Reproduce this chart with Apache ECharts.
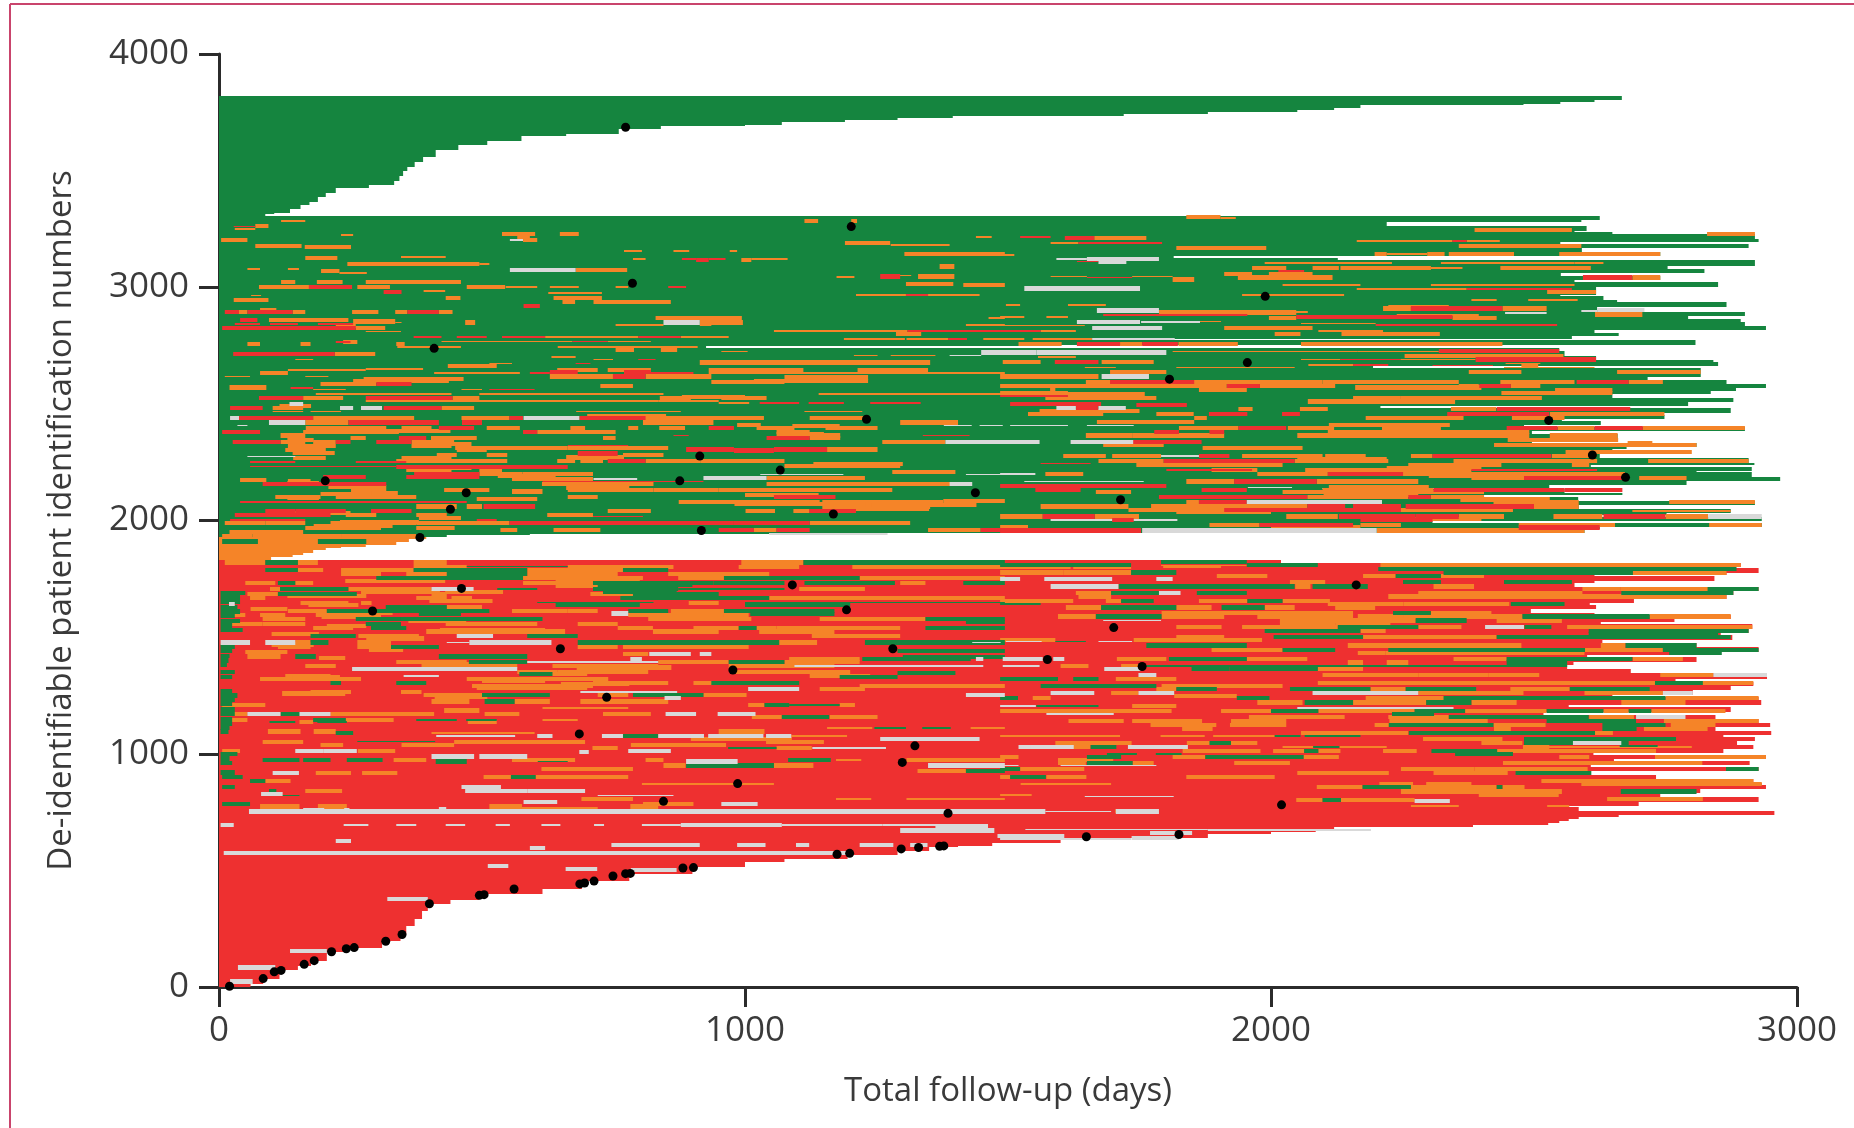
<!DOCTYPE html>
<html><head><meta charset="utf-8">
<style>html,body{margin:0;padding:0;background:#fff}#c{width:1854px;height:1128px}</style>
<script src="https://cdn.jsdelivr.net/npm/echarts@6/dist/echarts.min.js"></script>
</head><body><div id="c"></div>
<script>
const xTicks=[0,1000,2000,3000];
const yTicks=[0,1000,2000,3000,4000];
const xTitle='Total follow-up (days)';
const yTitle='De-identifiable patient identification numbers';
// patient-id blocks: [idLow, idHigh, lastDay]
const greenBlocks=[[3304,3312,88],[3312,3320,105],[3320,3337,135],[3337,3352,155],[3352,3367,172],[3367,3385,188],[3385,3405,203],[3405,3425,222],[3425,3440,285],[3440,3455,333],[3455,3475,343],[3475,3497,350],[3497,3515,358],[3515,3535,372],[3535,3560,388],[3560,3589,412],[3589,3612,455],[3612,3625,510],[3625,3647,575],[3647,3657,660],[3657,3678,760],[3678,3690,840],[3690,3696,1000],[3696,3708,1070],[3708,3716,1190],[3716,3727,1290],[3727,3735,1395],[3735,3742,1720],[3742,3750,1880],[3750,3760,2050],[3760,3769,2120],[3769,3780,2170],[3780,3787,2480],[3787,3795,2550],[3795,3804,2615],[3804,3819,2667],
[3289,3306,2625],[3278,3289,2590],[3261,3278,2220],[3243,3261,2600],[3235,3243,2577],[3228,3235,2649],[3209,3228,2920],[3193,3209,2927],[3185,3193,2550],[3168,3185,2908],[3152,3168,2591],[3133,3152,2740],[3125,3133,1815],[3115,3125,2127],[3089,3115,2920],[3080,3089,2754],[3063,3080,2824],[3049,3063,2551],[3029,3049,2740],[3022,3029,2577],[3003,3022,2850],[2982,3003,2618],[2967,2982,2618],[2963,2967,2550],[2945,2963,2632],[2936,2945,2658],[2915,2936,2866],[2903,2915,2620],[2892,2903,2706],[2875,2892,2901],[2866,2875,2793],[2849,2866,2893],[2832,2849,2901],[2815,2832,2941],[2806,2815,2615],[2789,2806,2661],[2780,2789,2572],[2775,2780,1815],[2753,2775,2807],[2746,2753,1523],[2741,2746,926],[2725,2741,2548],[2706,2725,2558],[2689,2706,2618],[2678,2689,2841],[2664,2678,2850],[2654,2664,2194],[2624,2654,2817],
[2615,2624,2817],[2604,2615,2716],[2584,2604,2866],[2567,2584,2941],[2557,2567,2884],[2544,2557,2836],[2527,2544,2649],[2507,2527,2879],[2492,2507,2793],[2482,2492,2208],[2462,2482,2874],[2452,2462,2663],[2437,2452,2748],[2428,2437,2553],[2411,2428,2627],[2402,2411,2481],[2385,2402,2901],[2370,2385,2496],[2351,2370,2659],[2341,2351,2529],[2334,2341,2496],[2317,2334,2809],[2307,2317,2676],[2292,2307,2649],[2270,2292,2625],[2247,2270,2908],[2238,2247,2919],[2231,2238,2608],[2214,2231,2914],[2207,2214,2809],[2188,2207,2914],[2170,2188,2968],[2152,2170,2790],[2141,2152,2529],[2135,2141,2098],[2117,2135,2558],[2110,2117,2668],[2101,2110,2405],[2084,2101,2584],[2067,2084,2920],[2050,2067,2585],[2032,2050,2874],[2024,2032,2752],[2015,2024,2620],[1998,2015,2933],[1990,1998,2307],[1972,1990,2933],[1964,1972,2625],[1947,1964,2596],[1944,1947,1046],[1938,1944,591],[1929,1938,433]];
const orangeBlocks=[[1831,1845,99],[1845,1852,140],[1852,1862,160],[1862,1874,179],[1874,1881,203],[1881,1888,232],[1888,1895,279],[1895,1909,337],[1909,1921,361],[1921,1929,394]];
const redBlocks=[[1817,1831,2019],[1802,1817,2893],[1795,1802,2860],[1777,1795,2927],[1767,1777,2866],[1760,1767,2615],[1742,1760,2843],[1731,1742,2615],[1717,1731,2577],[1697,1717,2927],[1681,1697,2879],[1662,1681,2866],[1645,1662,2690],[1637,1645,2606],[1620,1637,2618],[1605,1620,2494],[1595,1605,2615],[1577,1595,2874],[1565,1577,2767],[1557,1565,2627],[1535,1557,2915],[1517,1535,2908],[1507,1517,2855],[1488,1507,2877],[1474,1488,2630],[1457,1474,2809],[1438,1457,2927],[1424,1438,2855],[1414,1424,2601],[1395,1414,2809],[1381,1395,2575],[1362,1381,2563],[1345,1362,2684],[1331,1345,2850],[1319,1331,2943],[1309,1319,2769],[1291,1309,2917],[1274,1291,2874],[1252,1274,2802],[1242,1252,2649],[1231,1242,2927],
[1210,1231,2932],[1200,1210,2566],[1177,1200,2874],[1165,1177,2518],[1148,1165,2845],[1131,1148,2927],[1114,1131,2949],[1098,1114,2845],[1081,1098,2951],[1071,1081,2860],[1055,1071,2920],[1038,1055,2886],[1019,1038,2917],[1002,1019,2860],[995,1002,2613],[977,995,2941],[967,977,2652],[952,967,2910],[942,952,2608],[924,942,2927],[910,924,2608],[891,910,2732],[874,891,2917],[865,874,2933],[848,865,2941],[831,848,2816],[814,831,2740],[795,814,2927],[778,795,2699],[771,778,2566],[754,771,2585],[736,754,2957],[728,736,2661],[720,728,2585],[710,720,2566],[702,710,2548],[694,702,2527],[685,694,2384],[671,685,2120],[663,671,2085],[655,663,2000],[639,655,1880],[631,639,1730],[618,631,1600],[606,618,1470],[600,606,1405],[582,600,1350],[566,582,1290],[547,566,1195],[537,547,1075],[513,537,1000],[486,513,900],[454,486,780],[421,454,690],[397,421,615],[373,397,495],[357,373,440],[325,357,397],[293,325,386],[260,293,372],[229,260,356],[196,229,345],[167,196,310],[148,167,245],[113,148,205],[92,113,175],[71,92,150],[36,71,115],[11,36,84],[0,11,60]];
// treatment stretches: [patientId, fromDay, toDay]
const orangeWide=[[3263,69,94],[3285,1113,1139],[3285,1202,1213],[3229,538,601],[3229,648,684],[3218,567,591],[3203,578,605],[3203,4,54],[3178,69,157],[3174,163,251],[3189,1190,1276],[3143,1303,1494],[3125,164,225],[3116,993,1012],[3099,244,495],[3089,1370,1398],[3069,194,229],[3073,678,776],[3046,1329,1398],[3022,118,145],[3022,186,235],[3022,279,460],[3013,1306,1396],[3010,1415,1494],[3000,76,171],[3000,263,325],[3002,471,544],[2953,431,459],[2953,636,728],[2946,28,94],[2936,712,859],[2936,653,677],[2893,38,54],[2893,140,164],[2893,253,303],[2893,335,358],[2893,418,444],[2868,830,994],[2849,914,996],[2859,95,246],[2853,255,335],[2849,468,487],[2836,222,260],[2825,260,316],[2799,1287,1335],[2765,236,263],[2756,54,78],[2756,155,174],[2756,337,353],[2732,754,789],[2732,840,871],[2713,220,297],[2677,914,1352],[2663,435,528],[2645,643,720],[2645,739,821],[2645,931,1111],[2645,1214,1348],[2632,78,131],
[3301,1839,1904],[3246,2387,2572],[3211,1664,1763],[3229,2829,2920],[3168,1820,1991],[3178,2357,2590],[3143,2197,2220],[3143,2297,2330],[3143,2338,2462],[3143,2548,2740],[3082,1964,2029],[3082,2079,2129],[3082,2132,2304],[3082,2436,2608],[3056,1911,1964],[3056,1996,2079],[3042,2687,2740],[3033,1813,1854],[3042,1937,2117],[2978,2525,2618],[2909,2213,2266],[2909,2440,2524],[2892,1787,2048],[2883,2616,2706],[2869,1996,2048],[2869,2345,2429],[2825,1911,2079],[2799,2007,2056],[2799,2134,2321],[2756,1520,1602],[2756,1713,1755],[2756,1824,1937],[2756,2057,2440],[2706,2254,2556],[2679,1490,1562],[2679,1678,1777],[2668,2476,2508],[2636,1694,1801],[2636,2376,2476],[2636,2658,2817],
[2617,629,749],[2617,811,936],[2613,1075,1234],[2598,255,437],[2598,1017,1234],[2595,936,1075],[2585,193,299],[2577,725,787],[2524,160,236],[2524,444,495],[2524,838,897],[2524,955,1041],[2481,102,160],[2481,423,485],[2438,179,371],[2438,461,552],[2438,804,1036],[2438,1123,1228],[2420,164,246],[2420,806,940],[2420,1295,1405],[2398,165,318],[2398,347,404],[2398,509,572],[2398,668,696],[2398,778,797],[2398,837,886],[2398,1022,1094],[2398,1153,1252],[2378,160,342],[2378,605,754],[2378,1060,1123],[2364,117,164],[2364,1123,1181],[2352,250,279],[2352,403,490],[2352,730,754],[2352,1123,1181],[2335,117,164],[2335,179,222],[2335,366,447],[2335,1261,1381],[2321,131,222],[2321,366,442],[2312,449,663],[2312,663,854],[2302,126,203],[2302,452,509],[2304,1156,1252],[2281,768,845],[2281,414,452],[2281,509,548],[2267,141,203],[2267,347,442],[2255,337,548],[2255,643,677],[2255,687,730],[2255,811,916],[2255,916,1075],[2235,1075,1295],[2217,356,442],[2217,495,538],[2198,495,577],[2198,577,711],[2181,1041,1228],[2177,557,711],[2167,131,174],[2155,178,208],[2155,614,826],[2155,1041,1391],[2145,208,318],[2131,428,514],[2131,663,826],[2131,826,950],[2131,950,1280],[2124,251,318],[2124,557,615],[2112,193,327],[2102,107,193],[2102,222,375],[2102,663,720],[2092,490,557],[2092,557,605],[2078,874,1142],[2078,1147,1377],[2085,1377,1494],[2060,375,452],[2060,471,500],[2060,1147,1352],[2041,739,821],[2041,1001,1057],[2041,1092,1123],[2024,241,299],[2024,375,433],[2024,624,711],[1988,11,88],[1988,88,164],[1988,212,375],[1988,375,552],[1988,1123,1314],[1967,164,308],[1967,375,448],[1958,535,567],[1958,636,725],[1958,1017,1060],[1958,1348,1448],[1931,6,64],[1931,64,232],[1931,232,375],
[2605,275,465],[2570,20,90],[2530,880,1000],[2490,115,175],[2448,700,850],[2410,985,1030],[2405,1090,1180],[2385,300,440],[2370,1060,1150],[2345,130,180],[2328,400,480],[2290,140,220],[2270,660,770],[2242,1130,1300],[2225,360,480],[2208,1280,1400],[2190,530,640],[2172,40,90],[2160,130,190],[2140,660,780],[2118,290,340],[2110,1000,1140],[2095,130,190],[2070,980,1230],[2068,1240,1440],[2050,1160,1350],[2033,110,250],[2010,380,460],[1995,230,380],[1975,180,330],[1950,20,160],
[2617,1485,1672],[2594,1648,2098],[2594,2098,2357],[2594,2436,2577],[2594,2680,2745],[2577,1485,1916],[2577,1979,2122],[2577,2357,2395],[2577,2456,2512],[2560,1580,1590],[2560,1863,1954],[2560,2540,2649],[2545,1485,1614],[2545,2438,2649],[2524,2156,2247],[2524,2247,2515],[2524,1571,1782],[2477,2342,2428],[2477,1938,1965],[2477,2055,2108],[2455,1538,1681],[2455,1782,1853],[2455,2530,2748],[2438,1854,1878],[2438,2180,2366],[2438,2458,2558],[2424,1669,1854],[2395,1825,1938],[2395,2032,2120],[2395,2211,2323],[2395,2545,2615],[2395,2707,2901],[2378,2108,2491],[2364,1648,1736],[2364,1736,1911],[2364,2050,2491],[2364,2530,2659],[2324,1681,1796],[2324,2424,2809],[2330,2678,2725],[2277,1605,1686],[2277,1698,1791],[2277,1945,2098],[2277,2103,2180],[2277,2266,2307],[2277,2534,2611],[2255,1672,1796],[2255,2045,2223],[2255,2347,2620],[2255,2717,2908],[2238,1744,2022],[2238,2261,2438],[2238,2572,2605],[2217,1887,1974],[2217,2065,2381],[2200,1974,2108],[2200,2251,2673],[2200,1571,1643],[2181,2381,2481],[2181,2700,2790],[2167,1839,1930],[2167,2087,2280],[2131,2098,2309],[2121,1667,1734],[2121,2022,2405],[2102,2069,2261],[2102,2304,2405],[2078,1839,1863],[2078,2423,2585],[2078,2757,2920],[2060,1562,1729],[2060,1772,2069],[2060,2500,2585],[2045,1729,2460],[2017,1485,1566],[2017,1665,1749],[2017,2029,2127],[2017,2357,2443],[2017,2537,2630],[2017,2750,2831],[1981,1883,1978],[1981,2170,2247],[1981,2471,2654],[1981,2833,2933],[1957,2201,2596],[1970,1485,1538],
[2570,2160,2400],[2540,1570,1760],[2510,2070,2350],[2470,1560,1750],[2410,2110,2340],[2345,2450,2660],[2310,1870,2060],[2295,2560,2800],[2265,2050,2220],[2225,2220,2400],[2190,2300,2500],[2145,2110,2300],[2110,2100,2280],[2090,2360,2530],[2035,1820,2000],[2005,2190,2400],[1970,2000,2170],
[1820,11,88],[1820,150,188],[1820,370,433],[1820,993,1111],[1802,370,471],[1802,663,864],[1802,988,1103],[1802,1204,1494],[1788,150,198],[1788,232,370],[1788,586,768],[1770,232,308],[1770,356,471],[1770,586,758],[1770,854,1046],[1752,578,806],[1752,873,960],[1752,1218,1494],[1731,50,107],[1731,145,179],[1731,578,711],[1731,1295,1343],[1707,97,121],[1707,246,404],[1707,1103,1228],[1684,54,112],[1684,404,433],[1684,706,787],[1667,59,88],[1667,375,433],[1667,442,481],[1667,1046,1494],[1648,155,246],[1648,270,290],[1648,893,950],[1628,433,500],[1612,131,205],[1612,557,663],[1612,663,720],[1612,859,960],[1595,6,50],[1595,78,126],[1595,184,308],[1595,778,960],[1595,960,1007],[1577,83,164],[1577,816,1012],[1577,1142,1343],[1557,16,83],[1557,83,164],[1557,431,605],[1557,682,758],[1538,179,255],[1538,758,825],[1538,902,988],[1538,1022,1060],[1538,1060,1295],[1524,394,658],[1524,825,950],[1524,1027,1170],[1505,265,380],[1505,1127,1295],[1477,145,174],[1477,263,327],[1477,1065,1137],[1457,112,174],[1457,263,327],[1457,682,758],[1457,768,1007],[1428,768,816],[1417,54,117],[1405,1084,1218],[1394,337,471],[1394,835,969],[1394,1075,1218],[1377,164,222],[1377,385,567],[1377,634,835],[1377,969,1170],[1352,567,643],[1352,643,816],[1352,979,1200],[1334,126,212],[1334,1123,1238],[1319,78,270],[1319,471,740],[1305,711,854],[1305,902,1036],[1291,481,711],[1291,1218,1494],[1278,1142,1228],[1266,174,251],[1266,346,385],[1252,389,500],[1252,720,778],[1252,921,1003],
[1742,240,430],[1742,640,800],[1720,640,740],[1695,270,420],[1695,430,540],[1675,130,280],[1655,400,520],[1638,170,265],[1620,60,130],[1603,205,330],[1586,195,270],[1568,360,470],[1548,205,280],[1530,420,620],[1515,100,190],[1494,280,390],[1468,100,180],[1447,285,350],[1436,50,130],[1410,190,240],[1385,400,560],[1370,680,860],[1342,630,700],[1327,140,230],[1312,500,620],[1298,650,780],[1284,490,700],[1258,120,240],[1244,410,510],
[1810,2208,2893],[1800,1485,1619],[1800,1624,1734],[1777,1485,1605],[1777,1605,1734],[1777,2688,2866],[1762,1897,1993],[1762,2175,2237],[1762,2323,2405],[1735,2036,2103],[1717,2046,2075],[1717,2309,2386],[1707,2592,2665],[1707,2665,2832],[1688,1629,1696],[1688,2280,2592],[1674,1634,1696],[1674,2223,2866],[1655,1485,1624],[1655,1686,1715],[1655,1863,1955],[1655,2022,2112],[1642,2108,2252],[1642,2252,2453],[1627,1610,1677],[1627,1820,1887],[1627,1988,2045],[1627,2122,2198],[1605,1792,2156],[1605,2304,2419],[1588,1595,1667],[1588,1792,1911],[1588,1974,2156],[1588,2165,2251],[1588,2251,2478],[1588,2720,2874],[1571,2017,2275],[1571,2429,2553],[1557,2017,2122],[1557,2122,2227],[1545,1820,1906],[1545,1945,2127],[1545,2280,2362],[1545,2563,2915],[1527,2170,2218],[1502,1820,1911],[1502,2175,2429],[1488,1485,1590],[1488,1739,1983],[1464,2146,2476],[1464,2627,2674],[1445,1887,2022],[1445,2597,2745],[1431,2165,2218],[1431,2218,2596],[1407,1707,1801],[1407,1954,2069],[1407,2347,2448],[1407,2688,2783],[1391,2146,2175],[1391,2220,2261],[1377,1600,1653],[1377,1715,1753],[1362,2089,2175],[1338,2098,2280],[1338,2280,2414],[1338,2414,2510],[1338,2740,2841],[1319,1705,1820],[1304,2089,2917],[1291,1792,2022],[1276,1782,1820],[1276,2189,2256],[1276,2455,2568],[1259,1696,1748],[1259,2280,2480],[1259,2596,2745],[1248,1816,1935],[1239,1547,1581],[1239,2180,2329],[1239,2750,2927],
[1224,404,476],[1224,562,629],[1224,687,854],[1208,6,88],[1208,1006,1037],[1208,1180,1209],[1185,428,495],[1170,505,571],[1170,21,54],[1170,212,409],[1170,730,821],[1157,1013,1070],[1157,1161,1252],[1145,21,54],[1145,241,332],[1135,473,528],[1135,153,179],[1095,93,155],[1095,180,222],[1095,950,1037],[1062,897,1089],[1052,83,160],[1052,447,696],[1052,1040,1150],[1038,193,236],[1038,347,447],[1038,783,964],[1024,710,758],[1024,1060,1127],[1012,6,40],[1012,264,335],[974,332,394],[974,557,677],[974,811,845],[974,1307,1494],[950,845,887],[950,1055,1130],[934,613,787],[927,1328,1420],[917,184,251],[917,272,339],[899,503,555],[899,602,778],[884,88,136],[841,164,234],[807,689,787],[784,806,902],[774,78,153],[774,188,243],[774,514,576],[774,782,835],
[1220,1974,2060],[1220,2156,2295],[1220,2381,2467],[1220,2666,2788],[1205,1736,1820],[1184,1485,1811],[1184,1905,2000],[1184,2090,2273],[1184,2369,2524],[1184,2632,2680],[1184,2723,2864],[1157,1958,2140],[1157,2223,2338],[1157,2605,2690],[1141,1615,1720],[1141,1736,1869],[1141,1924,2029],[1141,2225,2412],[1141,2747,2927],[1124,1771,1896],[1124,1922,2029],[1124,2197,2224],[1124,2423,2522],[1124,2760,2845],[1107,1831,1889],[1107,2424,2456],[1107,2709,2830],[1088,2057,2261],[1088,2616,2650],[1062,2289,2440],[1045,1590,1735],[1045,1840,1974],[1045,2400,2478],[1028,1588,1657],[1028,2479,2529],[1012,1832,1980],[1012,2004,2063],[1012,2090,2132],[1012,2213,2277],[1012,2429,2601],[1012,2594,2732],[985,1485,1520],[985,1813,1875],[985,2062,2129],[985,2548,2605],[985,2730,2941],[974,1595,1700],[961,1595,1648],[961,1737,1777],[961,1930,2036],[961,2441,2820],[934,1523,1645],[934,2247,2387],[934,2387,2602],[917,2050,2224],[917,2309,2450],[899,1485,1505],[899,1573,1649],[899,1839,2007],[884,2514,2917],[871,2206,2270],[871,2295,2381],[871,2590,2933],[857,2087,2174],[857,2266,2429],[857,2440,2482],[838,2247,2553],[824,2395,2547],[807,2639,2821],[800,2048,2098],[800,2133,2273],[755,1704,1759]];
const orangeThin=[[3251,30,69],[3285,118,164],[3223,232,255],[3215,1439,1469],[3181,1277,1389],[3155,770,804],[3155,864,894],[3155,971,985],[3129,346,431],[3120,787,811],[3120,1012,1081],[3099,495,514],[3078,54,78],[3078,131,152],[3060,229,281],[3050,1266,1316],[3043,1174,1208],[3002,545,605],[3002,629,684],[3002,754,778],[2983,389,430],[2975,626,728],[2966,1211,1306],[2966,1348,1446],[2965,61,80],[2908,78,109],[2849,335,347],[2838,754,845],[2838,914,936],[2838,1420,1494],[2868,1463,1494],[2810,279,346],[2812,1055,1309],[2786,620,797],[2786,878,969],[2778,1188,1304],[2778,1307,1386],[2778,1453,1494],[2768,423,672],[2768,739,821],[2743,339,460],[2743,644,910],[2725,955,1005],[2708,1207,1252],[2708,1277,1362],[2700,632,678],[2690,145,179],[2690,712,749],[2673,514,557],[2650,279,388],[2645,131,279],[2632,409,572],[2632,931,1494],
[3297,1904,1933],[3191,1581,1634],[3198,2163,2345],[3198,2372,2435],[3139,1485,1512],[3143,2220,2297],[3103,1988,2230],[3103,2323,2577],[3103,2577,2632],[3082,2304,2364],[3046,1581,1650],[3046,1736,1813],[3009,2304,2577],[3009,2022,2170],[2992,2163,2372],[2966,1945,2139],[2946,2381,2429],[2946,2489,2583],[2923,1496,1523],[2923,1614,1686],[2919,2223,2338],[2893,1955,2070],[2872,1485,1531],[2872,1573,1614],[2880,2239,2395],[2853,1813,1905],[2845,2057,2199],[2838,2266,2496],[2836,1485,1646],[2812,1562,1629],[2812,2090,2213],[2778,1485,1531],[2778,1547,1660],[2725,1813,2165],[2725,2165,2319],[2700,1557,1629],[2690,2057,2132],[2690,2246,2389],[2668,2071,2156],[2656,1646,1705],[2656,1820,2045],[2656,2443,2615],[2673,2446,2512],
[2618,11,59],[2618,164,208],[2561,179,241],[2561,461,500],[2543,184,442],[2543,495,845],[2543,1140,1494],[2511,279,835],[2511,835,950],[2503,950,1008],[2467,102,160],[2467,174,232],[2467,679,878],[2467,1113,1223],[2042,2687,2874],
[1807,1791,1954],[1800,1795,1905],[1195,615,778],[1145,615,682],[1077,1088,1194],[1088,404,600],[1110,1156,1242],[1110,1429,1494],[1052,1052,1150],[869,804,1055],[807,1173,1240],[807,1307,1494],[767,576,720],[974,1173,1221],
[1077,1485,1713],[1077,1790,1874],[1077,1890,2007],[1028,2022,2129],[1028,2130,2220],[1028,2479,2800],[871,1524,1696],[777,2266,2357],[777,2525,2567],[824,1485,1545]];
const greenWide=[[1910,6,74],[1910,188,280],
[1820,88,150],[1820,1111,1494],[1788,88,150],[1788,370,586],[1788,768,854],[1770,433,586],[1752,299,578],[1752,960,1218],[1731,112,145],[1731,711,940],[1731,940,1075],[1731,1113,1285],[1731,1415,1494],[1707,116,246],[1707,711,873],[1684,112,262],[1684,787,950],[1667,763,1046],[1628,317,433],[1612,205,514],[1612,778,854],[1612,960,1170],[1577,260,346],[1577,346,615],[1577,1343,1494],[1557,279,346],[1538,289,356],[1538,988,1022],[1538,1343,1494],[1505,174,260],[1505,586,682],[1477,174,208],[1477,682,787],[1477,787,1065],[1477,1228,1494],[1457,327,418],[1417,145,184],[1417,418,586],[1405,1223,1429],[1394,475,586],[1394,969,1075],[1342,571,634],[1305,212,232],[1305,337,394],[1305,936,1103],[1252,500,629],[1252,787,921],
[1725,720,900],[1696,730,870],[1640,640,800],[1600,380,460],[1640,1000,1200],[1600,1010,1170],[1565,1420,1494],[1440,1290,1494],[1415,1300,1494],[1345,1290,1400],[1330,1180,1290],
[1822,1791,1954],[1810,1485,1734],[1810,1954,2089],[1792,2204,2885],[1777,1734,1820],[1777,2328,2688],[1762,2237,2323],[1735,2251,2323],[1735,2443,2572],[1717,1710,2045],[1717,2079,2184],[1707,2830,2927],[1688,1696,1792],[1688,1859,1954],[1688,2666,2879],[1655,1715,1777],[1655,1955,2022],[1642,2456,2558],[1627,1677,1820],[1627,1906,1988],[1605,2232,2304],[1588,1667,1792],[1588,2478,2720],[1571,2275,2372],[1545,2127,2280],[1545,2482,2533],[1527,1988,2170],[1527,2604,2908],[1514,2604,2850],[1502,2005,2175],[1502,2429,2874],[1464,1763,1954],[1464,2674,2809],[1445,2022,2122],[1445,2223,2597],[1445,2745,2927],[1431,2757,2857],[1407,1806,1954],[1407,2448,2578],[1407,2578,2687],[1391,2448,2563],[1362,1849,1921],[1362,1921,2089],[1319,1485,1595],[1319,1624,1672],[1304,2730,2821],[1291,1562,1782],[1276,1820,1897],[1276,2036,2189],[1276,2256,2390],[1276,2568,2720],[1239,1485,1519],[1239,1935,1997],[1239,2328,2750],
[1224,505,562],[1208,1037,1084],[1170,117,155],[1157,1070,1160],[1145,179,241],[1088,222,255],[1077,768,835],[974,83,153],[974,160,212],[974,243,311],[974,1082,1163],[967,412,471],[950,888,1055],[927,1420,1494],[899,555,602],[899,6,45],[884,59,88],[857,6,30],[841,95,109],[784,6,59],
[1220,2064,2156],[1220,2295,2381],[1184,2000,2090],[1184,2273,2369],[1184,2524,2632],[1184,2680,2723],[1171,2230,2310],[1157,2338,2604],[1141,2524,2694],[1124,2224,2423],[1124,2630,2750],[1107,2630,2695],[1088,2262,2616],[1062,2481,2770],[1045,2481,2680],[1028,1657,1706],[1045,1883,1924],[1012,2063,2090],[1012,2305,2430],[1000,2350,2460],[985,1875,2062],[985,1650,1715],[961,1650,1737],[934,1485,1523],[934,2865,2927],[917,2465,2609],[899,1504,1572],[857,2174,2266],[857,2429,2440],[838,2665,2809],[800,2098,2133],
[1690,3,50],[1670,3,40],[1650,3,40],[1630,3,35],[1610,3,40],[1590,3,30],[1570,3,40],[1550,3,25],[1530,3,45],[1460,3,30],[1440,3,25],[1420,3,20],[1400,3,18],[1380,3,15],[1350,3,30],[1330,3,25],[1270,3,25],[1250,3,35],[1230,3,30],[1214,3,25],[1190,3,30],[1170,3,30],[1150,3,25],[1130,3,25],[1110,3,20],[1095,3,18],[1000,3,35],[980,3,20],[960,3,25],[920,3,30]];
const greenThin=[[1802,471,663],[1648,605,826],[1648,1000,1494],[1707,529,605],[1707,873,1075],[1642,1485,1562],[1377,1763,2563],[1481,1590,1648],
[1208,1084,1180],[1145,375,452],[1145,470,528],[1135,96,145],[1110,1246,1306],[1110,1337,1391],[1052,263,411],[1024,968,1060],[967,606,663],[821,96,153],[1135,187,243],[1205,1554,1672],[1077,2007,2056],[1077,2064,2170],[1028,2080,2130],[1000,1688,1745],[1000,1781,1830],[1033,2663,2735]];
const redWide=[[2978,313,347],[2893,11,38],[2893,54,140],[2893,358,418],[2859,40,73],[2825,6,260],[2713,27,220],[3046,1257,1295],[3116,907,931],[2920,579,610],[3000,171,253],[2636,629,682],[2636,770,821],
[3211,1608,1664],[3042,2593,2687],[2909,2266,2440],[2872,2048,2345],[2725,2319,2548],[2679,1589,1672],[2690,2389,2618],[2756,1631,1713],[2756,1755,1823],
[2617,749,811],[2584,299,366],[2524,76,160],[2524,279,444],[2481,21,83],[2481,313,423],[2438,38,179],[2438,552,578],[2438,685,811],[2420,246,418],[2420,462,500],[2398,418,485],[2398,931,979],[2378,6,78],[2378,578,605],[2352,342,394],[2352,1041,1123],[2335,26,117],[2335,222,250],[2335,299,366],[2304,888,979],[2300,979,1055],[2304,1055,1156],[2287,682,758],[2255,739,811],[2231,337,663],[2198,371,495],[2188,198,279],[2188,356,495],[2155,83,318],[2102,1055,1172],[2060,503,601],[2041,88,145],[2041,145,241],[2041,289,366],[2041,1122,1211],[2024,30,212],[1988,552,979],[1988,979,1123],[1958,950,1017],[1958,1060,1123],[1958,1448,1494],
[2594,1694,1854],[2594,2581,2680],[2577,1916,1979],[2577,2396,2456],[2495,1744,1840],[2498,1504,1677],[2481,1629,1672],[2477,2429,2683],[2455,1882,1955],[2455,2021,2055],[2455,2335,2529],[2395,1938,2029],[2395,2448,2545],[2395,2615,2707],[2378,1778,1825],[2378,1883,1911],[2335,1736,1868],[2277,1863,1921],[2277,2307,2533],[2255,1796,2045],[2200,2108,2251],[2181,2481,2673],[2167,1930,2087],[2148,1485,1801],[2131,1552,1638],[2131,1868,1954],[2131,2309,2558],[2131,2558,2668],[2102,1787,2069],[2102,2261,2304],[2078,1863,1954],[2060,2069,2141],[2060,2156,2247],[2060,2256,2500],[2045,1911,2247],[2017,1566,1665],[2017,2129,2275],[2017,2275,2357],[2017,2632,2750],[2001,1698,1739],[2001,2170,2307],[1981,1978,2156],[1957,1485,1753],[1970,2471,2625]];
const redThin=[[3261,28,69],[3120,880,907],[3120,931,963],[3000,854,888],[2843,30,78],[2843,97,150],[2843,188,255],[2812,1309,1494],[2786,370,423],[2786,452,509],[2786,538,620],[2786,797,878],[2768,672,739],[2765,222,250],[2778,1386,1422],[2966,1306,1348],[2673,678,706],[2690,797,830],[2632,591,629],[2632,806,902],
[3215,1523,1581],[3191,1634,1793],[3198,2345,2372],[3110,1631,1672],[3069,2014,2063],[3042,1650,1736],[2992,2372,2572],[2880,1681,1955],[2838,2199,2544],[2812,1485,1562],[2690,2132,2246],[2668,2156,2223],[2665,2307,2422],
[2567,136,179],[2561,514,600],[2503,1028,1103],[2503,1121,1188],[2503,1238,1334],[2364,864,893],[2364,1338,1427],[2321,663,778],[2250,59,145],[2250,260,356],[2231,59,337],[2167,615,711],[2167,711,921],[2078,40,471],[2017,711,806],[2002,21,164],[2002,490,528],
[2535,1485,1614],[2245,1562,1657],[2217,1801,1964],[2217,2381,2620]];
const greyWide=[[3073,553,678],[2849,845,914],[2720,1449,1494],[2995,1531,1751],[3122,1650,1787],[3110,1672,1725],[2900,1669,1787],[2903,2620,2710],[2850,1631,1751],[2825,1660,1793],[2720,1485,1554],[2720,1554,1801],
[2438,579,685],[2420,95,164],[2438,21,38],[2335,1381,1494],[2181,921,1041],[2155,1389,1432],[2481,230,255],[2481,270,310],[2498,134,160],
[2617,1678,1768],[2335,1485,1560],[2335,1619,1738],[2078,1954,2211],[1957,1755,2201],[2481,1592,1629],[2481,1672,1724],[2017,2831,2933],
[1707,404,484],[1505,452,521],[1477,3,59],[1477,88,145],[1477,476,632],[1364,253,567],[1278,1006,1103],[1252,1420,1494],[1428,818,897],[1428,914,936],[1405,782,804],[1405,1439,1453],[1601,746,778],[1643,19,30],[1238,847,878],
[1750,1569,1698],[1750,1782,1813],[1750,1485,1523],[1717,1581,1710],[1688,1787,1828],[1545,2407,2481],[1407,1490,1566],[1407,1586,1607],[1362,1683,1753],[1338,1748,1782],[1338,2841,2943],[1259,1581,1664],[1259,1748,1816],[1259,2079,2280],[1259,2745,2802],
[1170,54,117],[1170,153,212],[1170,849,907],[1170,948,1020],[1077,605,634],[1077,728,768],[1077,835,922],[1077,930,1035],[1077,1040,1088],[1062,1257,1446],[1012,145,198],[1012,198,262],[1012,778,859],[1007,685,703],[988,404,485],[988,495,586],[967,888,986],[950,1348,1494],[917,102,152],[841,468,586],[841,586,696],[857,461,536],[828,80,121],[794,579,643],[784,955,1024],
[1045,2574,2666],[1157,2694,2788],[1028,1520,1570],[1028,1543,1625],[1028,1728,1842],[798,2273,2340],
[752,57,1571],[752,1705,1787],[760,160,200],[760,238,248],[763,418,432],[694,3,28],[694,878,1070],[686,1362,1462],[625,222,251],[609,746,914],[609,985,1039],[609,1097,1122],[609,1218,1282],[609,1314,1347],[595,591,620],[574,9,1199],[153,135,205],[84,36,107],[24,21,64],[376,320,397],[505,659,719],[518,511,550],[503,783,870],[671,1295,1474],[646,1480,1607],[640,1735,1815],[660,1770,1850],[640,1772,1825]];
const greyThin=[[3203,553,578],[2708,1389,1449],[3122,1592,1650],[2889,2445,2524],[2899,2590,2620],[2850,1753,1865],[2778,1660,1817],
[2274,54,145],[2407,35,54],[2407,1378,1431],[2407,1446,1490],[2198,1029,1187],[2177,712,795],[2198,1420,1494],[1941,1046,1271],
[2407,1504,1614],[2407,1650,1739],[2167,1531,1758],[2141,1956,2040],[2001,1581,1698],[2001,1739,1822],[2200,1485,1552],[2277,1791,1863],
[1477,433,476],[1394,586,835],[1377,1094,1453],[1334,351,418],[1266,687,871],[1477,1432,1486],[1571,1681,1791],[1481,1496,1564],[1481,1672,1736],[1377,1490,1560],
[1077,413,563],[1024,1128,1268],[821,720,864],[1197,2050,2347],[1205,1485,1553],[1171,1573,1701],[950,1600,1782],[950,1485,1520],[817,1646,1815],
[752,1571,1696],[694,237,284],[694,337,375],[694,431,468],[694,526,553],[694,613,649],[694,713,732],[694,804,878],[694,1070,1261],[694,1261,1462],[675,1533,1880],[672,1880,2190],[634,1485,1734]];
// follow-up end markers: [day, patientId]
const deathDots=[[773,3686],[1202,3260],[786,3017],[1989,2961],[409,2738],[1955,2677],[1807,2606],[1231,2434],[2528,2429],[914,2276],[2611,2281],[1067,2216],[2674,2185],[202,2170],[876,2170],[470,2119],[1438,2119],[1714,2089],[440,2048],[1168,2028],[917,1957],[382,1927],[1090,1724],[2162,1724],[461,1709],[292,1612],[1193,1617],[1701,1541],[649,1450],[1281,1450],[1575,1404],[1755,1374],[977,1359],[737,1242],[685,1085],[1323,1034],[1299,963],[986,872],[845,796],[1386,745],[2020,781],[1649,644],[1825,654],[20,3],[84,36],[105,65],[118,71],[162,97],[181,113],[214,151],[242,164],[257,169],[317,196],[348,225],[400,357],[495,393],[504,396],[561,420],[686,442],[695,446],[713,454],[749,476],[773,486],[782,487],[882,510],[902,512],[1175,569],[1199,573],[1297,592],[1330,598],[1370,603],[1378,605]];
const GREEN='#15853f',RED='#ee3030',ORANGE='#f58428',GREY='#d9d9d9',INK='#2b2b2b',TEXT='#3a3a3a',FONT='"Open Sans"';
const WIDE_SPAN=18,THIN_SPAN=7;
function rect(a,b,color){const y0=Math.round(a[1]),y1=Math.round(b[1]);
 return{type:'rect',shape:{x:a[0],y:y0,width:b[0]-a[0],height:Math.max(1,y1-y0)},style:{fill:color}};}
function blockSeries(rows,color){return{type:'custom',silent:true,clip:true,animation:false,encode:{x:2,y:0},data:rows,
 renderItem(p,api){return rect(api.coord([0,api.value(1)]),api.coord([api.value(2),api.value(0)]),color);}};}
function barSeries(rows,color,span){return{type:'custom',silent:true,clip:true,animation:false,encode:{x:[1,2],y:0},data:rows,
 renderItem(p,api){const id=api.value(0);return rect(api.coord([api.value(1),id+span/2]),api.coord([api.value(2),id-span/2]),color);}};}
const plainNumber=v=>String(v);
const chart=echarts.init(document.getElementById('c'),null,{renderer:'canvas'});
chart.setOption({animation:false,backgroundColor:'#fff',
 graphic:[{type:'line',silent:true,shape:{x1:10,y1:4,x2:10,y2:1128},style:{stroke:'#c9446c',lineWidth:2}},
  {type:'line',silent:true,shape:{x1:10,y1:4,x2:1854,y2:4},style:{stroke:'#c9446c',lineWidth:2}}],
 grid:{left:219,right:57,top:54,bottom:141,containLabel:false},
 xAxis:{type:'value',min:xTicks[0],max:xTicks[3],interval:1000,splitLine:{show:false},name:xTitle,nameLocation:'middle',nameGap:88,
  nameTextStyle:{fontFamily:FONT,fontSize:33,color:TEXT},
  axisLine:{show:true,onZero:false,lineStyle:{color:INK,width:3}},axisTick:{show:true,length:20,lineStyle:{color:INK,width:3}},
  axisLabel:{margin:27,fontFamily:FONT,fontSize:35,color:TEXT,formatter:plainNumber}},
 yAxis:{type:'value',min:yTicks[0],max:yTicks[4],interval:1000,splitLine:{show:false},name:yTitle,nameLocation:'middle',nameGap:141,
  nameTextStyle:{fontFamily:FONT,fontSize:33,color:TEXT},
  axisLine:{show:true,onZero:false,lineStyle:{color:INK,width:3}},axisTick:{show:true,length:20,lineStyle:{color:INK,width:3}},
  axisLabel:{margin:30,fontFamily:FONT,fontSize:35,color:TEXT,padding:[8,0,0,0],formatter:plainNumber}},
 series:[blockSeries(greenBlocks,GREEN),blockSeries(orangeBlocks,ORANGE),blockSeries(redBlocks,RED),
  barSeries(orangeWide,ORANGE,WIDE_SPAN),barSeries(orangeThin,ORANGE,THIN_SPAN),
  barSeries(greenWide,GREEN,WIDE_SPAN),barSeries(greenThin,GREEN,THIN_SPAN),
  barSeries(redWide,RED,WIDE_SPAN),barSeries(redThin,RED,THIN_SPAN),
  barSeries(greyWide,GREY,WIDE_SPAN),barSeries(greyThin,GREY,THIN_SPAN),
  {type:'scatter',silent:true,symbol:'circle',symbolSize:9,itemStyle:{color:'#000',opacity:1},data:deathDots,z:5,animation:false}]
});
</script></body></html>
